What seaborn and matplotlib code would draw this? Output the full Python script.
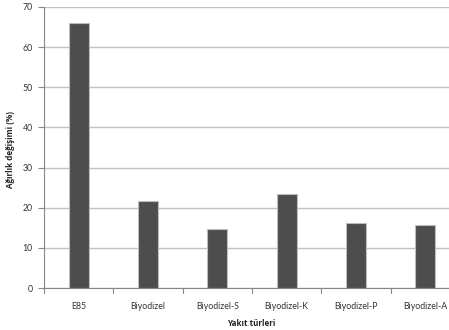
import matplotlib
matplotlib.use("Agg")
import matplotlib.pyplot as plt
import seaborn as sns
import pandas as pd

categories = ["E85", "Biyodizel", "Biyodizel-S", "Biyodizel-K", "Biyodizel-P", "Biyodizel-A"]
values = [66.0, 21.7, 14.8, 23.4, 16.3, 15.6]
y_ticks = [0, 10, 20, 30, 40, 50, 60, 70]

sns.set_theme(style="white")
plt.rcParams["font.family"] = ["Lato", "DejaVu Sans"]

df = pd.DataFrame({"Yakıt türleri": categories, "Ağırlık değişimi (%)": values})

fig = plt.figure(figsize=(4.49, 3.30), dpi=100)
# axes deliberately run past the right edge of the canvas
ax = fig.add_axes([44 / 449, 42 / 330, 416 / 449, 281 / 330])

ax.yaxis.grid(True, color="#c0c0c0", linewidth=1.0)
ax.set_axisbelow(True)

sns.barplot(data=df, x="Yakıt türleri", y="Ağırlık değişimi (%)", ax=ax,
            color="#4d4d4d", width=0.29, edgecolor="#bdbdbd", linewidth=0.8,
            saturation=1)

ax.set_xlim(-0.5, len(categories) - 0.5)
ax.set_ylim(0, 70)
ax.set_yticks(y_ticks)
ax.set_yticklabels([str(t) for t in y_ticks], fontsize=6.3, color="#333333")
ax.set_xticks(range(len(categories)))
ax.set_xticklabels(categories, fontsize=6.3, color="#333333")
ax.tick_params(axis="x", length=0, pad=10)
ax.tick_params(axis="y", length=4, width=0.8, color="#868686", pad=4, left=True)

# category boundary ticks on the x axis
for b in [i - 0.5 for i in range(len(categories) + 1)]:
    ax.plot([b, b], [0, -1.2], color="#868686", linewidth=0.8, clip_on=False)

for side in ["top", "right"]:
    ax.spines[side].set_visible(False)
for side in ["left", "bottom"]:
    ax.spines[side].set_color("#868686")
    ax.spines[side].set_linewidth(0.8)

bold_font = dict(family=["Open Sans", "DejaVu Sans"], size=5.8, weight="bold", color="#222222")
ax.set_xlabel("Yakıt türleri", **bold_font)
ax.set_ylabel("Ağırlık değişimi (%)", **bold_font)
ax.xaxis.set_label_coords(207 / 416, -31 / 281)
ax.yaxis.set_label_coords(-29 / 416, 138 / 281)

fig.savefig("out.png", dpi=100)
